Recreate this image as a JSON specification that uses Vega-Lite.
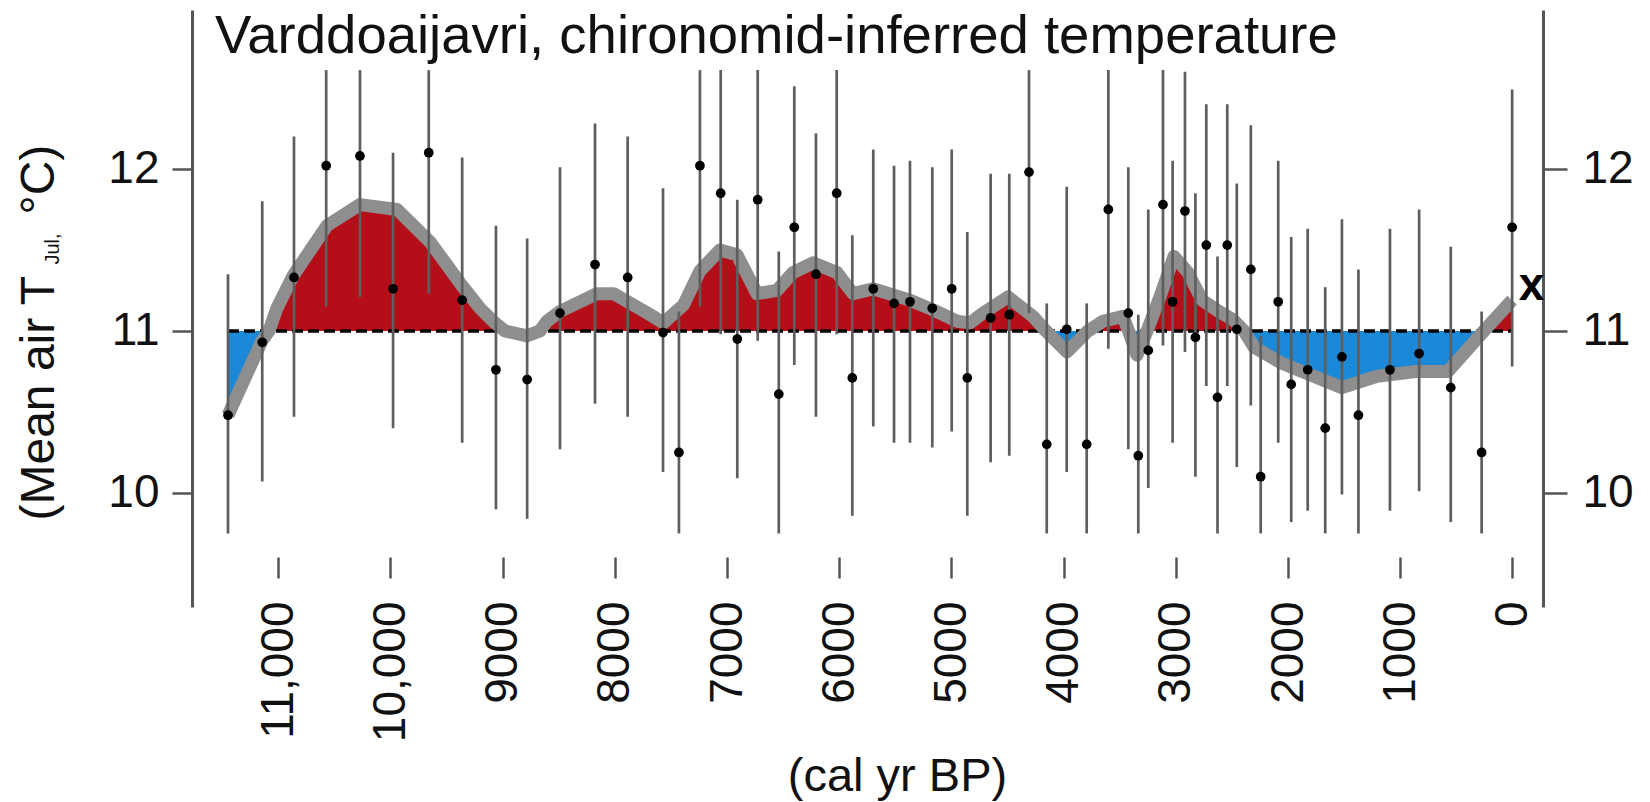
{
  "$schema": "https://vega.github.io/schema/vega-lite/v6.json",
  "width": 1351,
  "height": 597,
  "autosize": {"type": "none"},
  "padding": {"left": 192, "top": 10, "right": 107, "bottom": 195},
  "background": "white",
  "config": {
    "view": {"stroke": null},
    "font": "Liberation Sans",
    "axis": {"grid": false, "labelFont": "Liberation Sans", "titleFont": "Liberation Sans", "titleFontWeight": "normal", "labelColor": "#111111", "titleColor": "#111111"}
  },
  "title": {
    "text": "Varddoaijavri, chironomid-inferred temperature",
    "anchor": "start",
    "frame": "group",
    "font": "Liberation Sans",
    "fontSize": 54.5,
    "fontWeight": "normal",
    "color": "#111111",
    "baseline": "alphabetic",
    "offset": -97,
    "dx": 23
  },
  "datasets": {
    "curve": [
      {"year": 11448, "temp": 10.48, "seg": "s1", "sign": "below"},
      {"year": 11145, "temp": 10.94, "seg": "s1", "sign": "below"},
      {"year": 11083, "temp": 11.0, "seg": "s1", "sign": "below"},
      {"year": 11083, "temp": 11.0, "seg": "s2", "sign": "above"},
      {"year": 11012, "temp": 11.14, "seg": "s2", "sign": "above"},
      {"year": 10869, "temp": 11.34, "seg": "s2", "sign": "above"},
      {"year": 10566, "temp": 11.65, "seg": "s2", "sign": "above"},
      {"year": 10272, "temp": 11.78, "seg": "s2", "sign": "above"},
      {"year": 9942, "temp": 11.75, "seg": "s2", "sign": "above"},
      {"year": 9648, "temp": 11.55, "seg": "s2", "sign": "above"},
      {"year": 9363, "temp": 11.28, "seg": "s2", "sign": "above"},
      {"year": 9202, "temp": 11.14, "seg": "s2", "sign": "above"},
      {"year": 9086, "temp": 11.06, "seg": "s2", "sign": "above"},
      {"year": 8980, "temp": 11.0, "seg": "s2", "sign": "above"},
      {"year": 8980, "temp": 11.0, "seg": "s3", "sign": "below"},
      {"year": 8784, "temp": 10.97, "seg": "s3", "sign": "below"},
      {"year": 8668, "temp": 11.0, "seg": "s3", "sign": "below"},
      {"year": 8668, "temp": 11.0, "seg": "s4", "sign": "above"},
      {"year": 8606, "temp": 11.06, "seg": "s4", "sign": "above"},
      {"year": 8490, "temp": 11.12, "seg": "s4", "sign": "above"},
      {"year": 8160, "temp": 11.23, "seg": "s4", "sign": "above"},
      {"year": 8012, "temp": 11.23, "seg": "s4", "sign": "above"},
      {"year": 7709, "temp": 11.11, "seg": "s4", "sign": "above"},
      {"year": 7567, "temp": 11.05, "seg": "s4", "sign": "above"},
      {"year": 7389, "temp": 11.16, "seg": "s4", "sign": "above"},
      {"year": 7242, "temp": 11.37, "seg": "s4", "sign": "above"},
      {"year": 7064, "temp": 11.5, "seg": "s4", "sign": "above"},
      {"year": 6912, "temp": 11.47, "seg": "s4", "sign": "above"},
      {"year": 6734, "temp": 11.23, "seg": "s4", "sign": "above"},
      {"year": 6555, "temp": 11.25, "seg": "s4", "sign": "above"},
      {"year": 6413, "temp": 11.36, "seg": "s4", "sign": "above"},
      {"year": 6234, "temp": 11.42, "seg": "s4", "sign": "above"},
      {"year": 6020, "temp": 11.36, "seg": "s4", "sign": "above"},
      {"year": 5878, "temp": 11.23, "seg": "s4", "sign": "above"},
      {"year": 5700, "temp": 11.26, "seg": "s4", "sign": "above"},
      {"year": 5370, "temp": 11.19, "seg": "s4", "sign": "above"},
      {"year": 5165, "temp": 11.13, "seg": "s4", "sign": "above"},
      {"year": 4951, "temp": 11.06, "seg": "s4", "sign": "above"},
      {"year": 4835, "temp": 11.05, "seg": "s4", "sign": "above"},
      {"year": 4719, "temp": 11.11, "seg": "s4", "sign": "above"},
      {"year": 4496, "temp": 11.21, "seg": "s4", "sign": "above"},
      {"year": 4274, "temp": 11.09, "seg": "s4", "sign": "above"},
      {"year": 4185, "temp": 11.02, "seg": "s4", "sign": "above"},
      {"year": 4158, "temp": 11.0, "seg": "s4", "sign": "above"},
      {"year": 4158, "temp": 11.0, "seg": "s5", "sign": "below"},
      {"year": 3971, "temp": 10.87, "seg": "s5", "sign": "below"},
      {"year": 3784, "temp": 11.0, "seg": "s5", "sign": "below"},
      {"year": 3784, "temp": 11.0, "seg": "s6", "sign": "above"},
      {"year": 3650, "temp": 11.06, "seg": "s6", "sign": "above"},
      {"year": 3471, "temp": 11.09, "seg": "s6", "sign": "above"},
      {"year": 3422, "temp": 11.0, "seg": "s6", "sign": "above"},
      {"year": 3422, "temp": 11.0, "seg": "s7", "sign": "below"},
      {"year": 3347, "temp": 10.85, "seg": "s7", "sign": "below"},
      {"year": 3257, "temp": 11.0, "seg": "s7", "sign": "below"},
      {"year": 3257, "temp": 11.0, "seg": "s8", "sign": "above"},
      {"year": 3142, "temp": 11.21, "seg": "s8", "sign": "above"},
      {"year": 3017, "temp": 11.46, "seg": "s8", "sign": "above"},
      {"year": 2892, "temp": 11.36, "seg": "s8", "sign": "above"},
      {"year": 2767, "temp": 11.19, "seg": "s8", "sign": "above"},
      {"year": 2616, "temp": 11.12, "seg": "s8", "sign": "above"},
      {"year": 2491, "temp": 11.07, "seg": "s8", "sign": "above"},
      {"year": 2393, "temp": 11.0, "seg": "s8", "sign": "above"},
      {"year": 2393, "temp": 11.0, "seg": "s9", "sign": "below"},
      {"year": 2304, "temp": 10.9, "seg": "s9", "sign": "below"},
      {"year": 2054, "temp": 10.8, "seg": "s9", "sign": "below"},
      {"year": 1805, "temp": 10.73, "seg": "s9", "sign": "below"},
      {"year": 1520, "temp": 10.65, "seg": "s9", "sign": "below"},
      {"year": 1208, "temp": 10.72, "seg": "s9", "sign": "below"},
      {"year": 860, "temp": 10.75, "seg": "s9", "sign": "below"},
      {"year": 575, "temp": 10.75, "seg": "s9", "sign": "below"},
      {"year": 254, "temp": 11.0, "seg": "s9", "sign": "below"},
      {"year": 254, "temp": 11.0, "seg": "s10", "sign": "above"},
      {"year": 4, "temp": 11.19, "seg": "s10", "sign": "above"}
    ],
    "obs": [
      {"year": 11448, "temp": 10.48, "hi": 11.35, "lo": 9.75},
      {"year": 11143, "temp": 10.93, "hi": 11.8, "lo": 10.07},
      {"year": 10860, "temp": 11.33, "hi": 12.2, "lo": 10.47},
      {"year": 10573, "temp": 12.02, "hi": 12.61, "lo": 11.15},
      {"year": 10272, "temp": 12.08, "hi": 12.61, "lo": 11.21},
      {"year": 9977, "temp": 11.26, "hi": 12.1, "lo": 10.4},
      {"year": 9659, "temp": 12.1, "hi": 12.61, "lo": 11.23},
      {"year": 9361, "temp": 11.19, "hi": 12.07, "lo": 10.31},
      {"year": 9060, "temp": 10.76, "hi": 11.65, "lo": 9.9},
      {"year": 8782, "temp": 10.7, "hi": 11.57, "lo": 9.84},
      {"year": 8489, "temp": 11.11, "hi": 12.01, "lo": 10.27},
      {"year": 8177, "temp": 11.41, "hi": 12.28, "lo": 10.55},
      {"year": 7886, "temp": 11.33, "hi": 12.2, "lo": 10.47},
      {"year": 7571, "temp": 10.99, "hi": 11.88, "lo": 10.13},
      {"year": 7429, "temp": 10.25, "hi": 11.12, "lo": 9.75},
      {"year": 7242, "temp": 12.02, "hi": 12.61, "lo": 11.15},
      {"year": 7057, "temp": 11.85, "hi": 12.61, "lo": 10.98},
      {"year": 6909, "temp": 10.95, "hi": 11.81, "lo": 10.09},
      {"year": 6727, "temp": 11.81, "hi": 12.61, "lo": 10.94},
      {"year": 6539, "temp": 10.61, "hi": 11.49, "lo": 9.75},
      {"year": 6401, "temp": 11.64, "hi": 12.51, "lo": 10.79},
      {"year": 6208, "temp": 11.35, "hi": 12.22, "lo": 10.47},
      {"year": 6023, "temp": 11.85, "hi": 12.61, "lo": 10.98},
      {"year": 5884, "temp": 10.71, "hi": 11.59, "lo": 9.86},
      {"year": 5697, "temp": 11.26, "hi": 12.12, "lo": 10.41},
      {"year": 5512, "temp": 11.17, "hi": 12.02, "lo": 10.31},
      {"year": 5370, "temp": 11.18, "hi": 12.05, "lo": 10.31},
      {"year": 5171, "temp": 11.14, "hi": 12.01, "lo": 10.28},
      {"year": 4998, "temp": 11.26, "hi": 12.12, "lo": 10.38},
      {"year": 4859, "temp": 10.71, "hi": 11.61, "lo": 9.86},
      {"year": 4651, "temp": 11.08, "hi": 11.97, "lo": 10.19},
      {"year": 4485, "temp": 11.1, "hi": 11.97, "lo": 10.23},
      {"year": 4309, "temp": 11.98, "hi": 12.61, "lo": 11.11},
      {"year": 4151, "temp": 10.3, "hi": 11.17, "lo": 9.75},
      {"year": 3973, "temp": 11.01, "hi": 11.89, "lo": 10.13},
      {"year": 3795, "temp": 10.3, "hi": 11.17, "lo": 9.75},
      {"year": 3602, "temp": 11.75, "hi": 12.61, "lo": 10.89},
      {"year": 3424, "temp": 11.11, "hi": 12.01, "lo": 10.27},
      {"year": 3335, "temp": 10.23, "hi": 11.1, "lo": 9.75},
      {"year": 3246, "temp": 10.88, "hi": 11.75, "lo": 10.03},
      {"year": 3115, "temp": 11.78, "hi": 12.61, "lo": 10.91},
      {"year": 3029, "temp": 11.18, "hi": 12.05, "lo": 10.31},
      {"year": 2919, "temp": 11.74, "hi": 12.6, "lo": 10.87},
      {"year": 2826, "temp": 10.96, "hi": 11.85, "lo": 10.1},
      {"year": 2729, "temp": 11.53, "hi": 12.4, "lo": 10.66},
      {"year": 2629, "temp": 10.59, "hi": 11.46, "lo": 9.75},
      {"year": 2542, "temp": 11.53, "hi": 12.4, "lo": 10.66},
      {"year": 2457, "temp": 11.01, "hi": 11.91, "lo": 10.16},
      {"year": 2332, "temp": 11.38, "hi": 12.27, "lo": 10.54},
      {"year": 2244, "temp": 10.1, "hi": 10.97, "lo": 9.75},
      {"year": 2088, "temp": 11.18, "hi": 12.05, "lo": 10.31},
      {"year": 1972, "temp": 10.67, "hi": 11.58, "lo": 9.82},
      {"year": 1825, "temp": 10.76, "hi": 11.63, "lo": 9.89},
      {"year": 1669, "temp": 10.4, "hi": 11.27, "lo": 9.75},
      {"year": 1520, "temp": 10.84, "hi": 11.69, "lo": 9.99},
      {"year": 1373, "temp": 10.48, "hi": 11.38, "lo": 9.75},
      {"year": 1092, "temp": 10.76, "hi": 11.63, "lo": 9.89},
      {"year": 832, "temp": 10.86, "hi": 11.75, "lo": 10.01},
      {"year": 550, "temp": 10.65, "hi": 11.52, "lo": 9.82},
      {"year": 275, "temp": 10.25, "hi": 11.12, "lo": 9.75},
      {"year": 3, "temp": 11.64, "hi": 12.49, "lo": 10.78}
    ],
    "modern": [
      {"year": -171, "temp": 11.28, "label": "x"}
    ],
    "ref": [
      {"start": 11448, "end": 0, "level": 11}
    ]
  },
  "layer": [
    {
      "encoding": {
        "x": {
          "field": "year",
          "type": "quantitative",
          "scale": {"domain": [11769, -272], "zero": false, "nice": false},
          "axis": {
            "orient": "bottom",
            "offset": -50,
            "domain": false,
            "values": [0, 1000, 2000, 3000, 4000, 5000, 6000, 7000, 8000, 9000, 10000, 11000],
            "labelExpr": "datum.value >= 10000 ? format(datum.value, ',') : format(datum.value, 'd')",
            "ticks": true,
            "tickSize": 21,
            "tickWidth": 2.5,
            "tickColor": "#555555",
            "labelAngle": 270,
            "labelAlign": "right",
            "labelBaseline": "middle",
            "labelPadding": 23,
            "labelFontSize": 46,
            "labelOverlap": false,
            "labelFlush": false,
            "title": "(cal yr BP)",
            "titleFontSize": 47,
            "titleX": 705,
            "titleY": 233,
            "titleAlign": "center",
            "titleBaseline": "alphabetic",
            "titleAngle": 0
          }
        },
        "y": {
          "field": "temp",
          "type": "quantitative",
          "scale": {"domain": [9.296, 12.981], "zero": false, "nice": false},
          "axis": {
            "orient": "left",
            "values": [10, 11, 12],
            "format": "d",
            "domain": true,
            "domainColor": "#555555",
            "domainWidth": 3,
            "tickSize": 20,
            "tickWidth": 2.5,
            "tickColor": "#555555",
            "labelFontSize": 46,
            "labelPadding": 13,
            "labelBaseline": "middle",
            "title": "(Mean air T",
            "titleFontSize": 48,
            "titleAngle": 270,
            "titleAlign": "left",
            "titleBaseline": "alphabetic",
            "titleX": -139,
            "titleY": 510
          }
        }
      },
      "layer": [
        {
          "data": {"name": "curve"},
          "mark": {"type": "area", "interpolate": "linear", "opacity": 1},
          "encoding": {
            "y": {"field": "temp", "type": "quantitative", "stack": null},
            "y2": {"datum": 11},
            "color": {"field": "sign", "type": "nominal", "scale": {"domain": ["above", "below"], "range": ["#b40f18", "#1b88d8"]}, "legend": null},
            "detail": {"field": "seg", "type": "nominal"}
          }
        },
        {
          "data": {"name": "ref"},
          "mark": {"type": "rule", "color": "#000000", "strokeWidth": 3.5, "strokeDash": [11, 5], "opacity": 1},
          "encoding": {
            "x": {"field": "start", "type": "quantitative"},
            "x2": {"field": "end"},
            "y": {"field": "level", "type": "quantitative"}
          }
        },
        {
          "data": {"name": "curve"},
          "mark": {"type": "line", "color": "#8e8e8e", "strokeWidth": 13, "strokeJoin": "round", "strokeCap": "butt"}
        },
        {
          "data": {"name": "obs"},
          "mark": {"type": "rule", "color": "#5e5e5e", "strokeWidth": 2.7},
          "encoding": {
            "y": {"field": "lo", "type": "quantitative"},
            "y2": {"field": "hi"}
          }
        },
        {
          "data": {"name": "obs"},
          "mark": {"type": "circle", "color": "#000000", "size": 95, "opacity": 1}
        },
        {
          "data": {"name": "modern"},
          "mark": {"type": "text", "fontSize": 46, "fontWeight": "bold", "align": "center", "baseline": "middle", "color": "#000000", "font": "Liberation Sans"},
          "encoding": {
            "text": {"field": "label", "type": "nominal"}
          }
        },
        {
          "data": {"values": [{}]},
          "mark": {"type": "rule", "color": "#555555", "strokeWidth": 3},
          "encoding": {
            "x": {"datum": 11500},
            "x2": {"datum": 0},
            "y": {"datum": 9.607}
          }
        }
      ]
    },
    {
      "data": {"name": "obs"},
      "mark": {"type": "point", "opacity": 0},
      "encoding": {
        "x": {
          "field": "year",
          "type": "quantitative",
          "scale": {"domain": [11769, -272], "zero": false, "nice": false},
          "axis": {
            "orient": "top",
            "domain": false,
            "ticks": false,
            "labels": false,
            "title": "Jul,",
            "titleFontSize": 20,
            "titleAngle": 270,
            "titleAlign": "left",
            "titleBaseline": "alphabetic",
            "titleX": -134,
            "titleY": 254
          }
        },
        "y": {
          "field": "temp",
          "type": "quantitative",
          "scale": {"domain": [9.296, 12.981], "zero": false, "nice": false},
          "axis": {
            "orient": "right",
            "values": [10, 11, 12],
            "format": "d",
            "domain": true,
            "domainColor": "#555555",
            "domainWidth": 3,
            "tickSize": 24,
            "tickWidth": 2.5,
            "tickColor": "#555555",
            "labelFontSize": 46,
            "labelPadding": 15,
            "labelBaseline": "middle",
            "title": "°C)",
            "titleFontSize": 48,
            "titleAngle": 270,
            "titleAlign": "left",
            "titleBaseline": "alphabetic",
            "titleX": -1490,
            "titleY": 204
          }
        }
      }
    }
  ],
  "resolve": {"scale": {"x": "independent", "y": "independent"}}
}
